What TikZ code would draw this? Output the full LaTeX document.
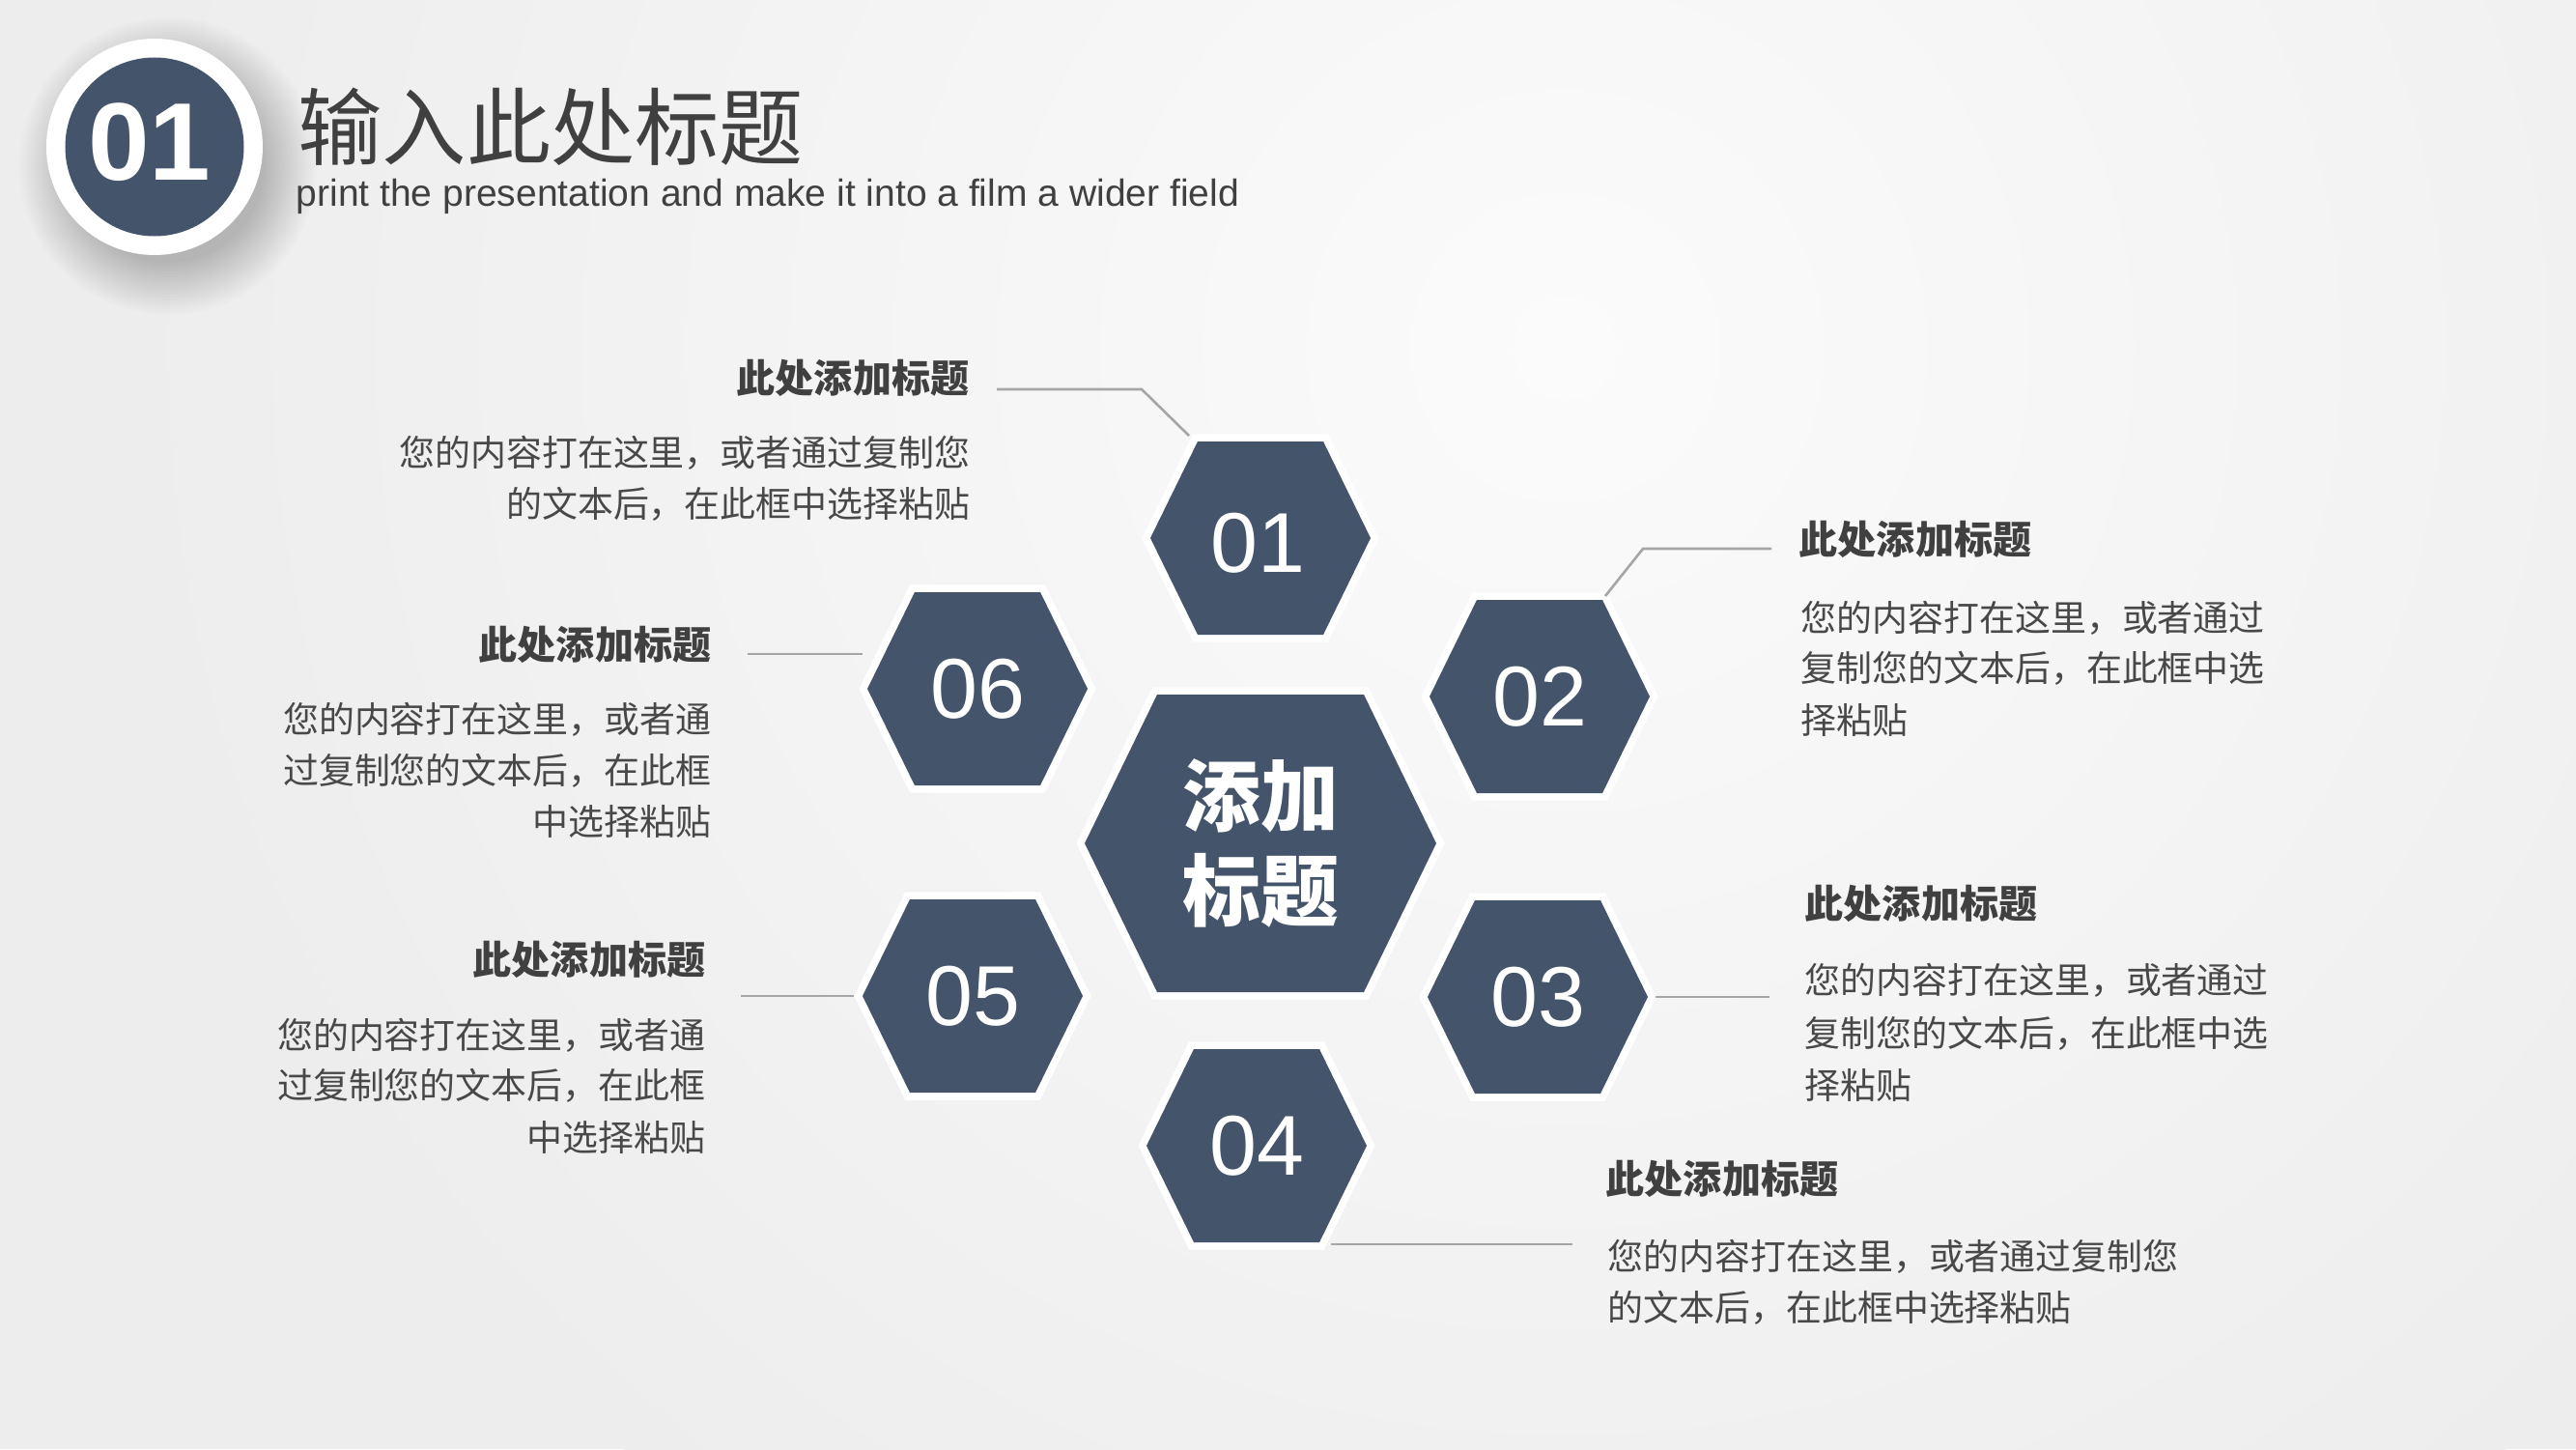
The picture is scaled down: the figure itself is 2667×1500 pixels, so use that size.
\documentclass[tikz,border=0pt]{standalone}
\usepackage{fontspec}
\setmainfont{Liberation Sans}
\newfontfamily\cjk{Noto Sans CJK SC}
\definecolor{hexc}{HTML}{44546A}
\definecolor{bgc}{HTML}{EDEDED}
\definecolor{hic}{HTML}{FBFBFB}
\definecolor{txt}{HTML}{404040}
\definecolor{bodyc}{HTML}{484848}
\definecolor{linec}{HTML}{A6A6A6}
\tikzset{
  hexrim/.style={draw=white, line width=4.4pt, line join=miter},
  hexfill/.style={fill=hexc},
  smallhex/.pic={
    \path[hexrim] (-114,0) -- (-65,-100) -- (65,-100) -- (114,0) -- (65,100) -- (-65,100) -- cycle;
    \path[hexfill] (-114,0) -- (-65,-100) -- (65,-100) -- (114,0) -- (65,100) -- (-65,100) -- cycle;},
  bighex/.pic={
    \path[hexrim] (-182,0) -- (-107,-154) -- (107,-154) -- (182,0) -- (107,154) -- (-107,154) -- cycle;
    \path[hexfill] (-182,0) -- (-107,-154) -- (107,-154) -- (182,0) -- (107,154) -- (-107,154) -- cycle;},
  num/.style={text=white, inner sep=0pt, font=\fontsize{25}{25}\selectfont},
  head/.style={text=txt, inner sep=0pt, font=\cjk\bfseries\fontsize{11.4}{14}\selectfont},
  bodyt/.style={text=bodyc, inner sep=0pt, font=\cjk\fontsize{10.5}{15}\selectfont},
  conn/.style={draw=linec, line width=0.75pt},
}
\begin{document}
\begin{tikzpicture}[x=0.01cm, y=-0.01cm]
\useasboundingbox (0,0) rectangle (2667,1500);
\fill[bgc] (0,0) rectangle (2667,1500);
\begin{scope}
  \clip (0,0) rectangle (2667,1500);
  \shade[inner color=hic, outer color=bgc] (1620,360) circle (1500);
\end{scope}

% header badge
\foreach \r in {100,103,...,154}{
  \fill[black, opacity=0.013] (174,172) circle (\r);
}
\fill[white] (160,152) circle (112);
\fill[hexc] (160,152) circle (92.5);
\node[text=white, inner sep=0pt, font=\bfseries\fontsize{32.5}{33}\selectfont] (badge) at (155,147) {01};
\node[anchor=west, inner sep=0pt, text=txt, font=\cjk\fontsize{24.8}{28}\selectfont] (title) at (308,131) {输入此处标题};
\node[anchor=base west, inner sep=0pt, text=txt, font=\fontsize{11.1}{13}\selectfont] (sub) at (306,213) {print the presentation and make it into a film a wider field};

% hexagons
\pic at (1305,557) {smallhex};
\node[num] (h1) at (1302,562) {01};
\pic at (1594,721) {smallhex};
\node[num] (h2) at (1594,721) {02};
\pic at (1592,1032) {smallhex};
\node[num] (h3) at (1592,1032) {03};
\pic at (1301,1186) {smallhex};
\node[num] (h4) at (1301,1186) {04};
\pic at (1007,1031) {smallhex};
\node[num] (h5) at (1007,1031) {05};
\pic at (1012,713) {smallhex};
\node[num] (h6) at (1012,713) {06};
\pic at (1305,873) {bighex};
\node[text=white, inner sep=0pt, align=center, font=\cjk\bfseries\fontsize{23}{28}\selectfont] (hc) at (1305,873) {添加\\标题};

% connectors
\coordinate (c1a) at (1231,451); \coordinate (c1b) at (1182,403); \coordinate (c1c) at (1032,403);
\draw[conn] (c1a) -- (c1b) -- (c1c);
\coordinate (c2a) at (1662,617); \coordinate (c2b) at (1701,568); \coordinate (c2c) at (1834,568);
\draw[conn] (c2a) -- (c2b) -- (c2c);
\coordinate (c3a) at (1714,1032); \coordinate (c3b) at (1832,1032);
\draw[conn] (c3a) -- (c3b);
\coordinate (c4a) at (1378,1288); \coordinate (c4b) at (1628,1288);
\draw[conn] (c4a) -- (c4b);
\coordinate (c5a) at (884,1031); \coordinate (c5b) at (767,1031);
\draw[conn] (c5a) -- (c5b);
\coordinate (c6a) at (893,677); \coordinate (c6b) at (774,677);
\draw[conn] (c6a) -- (c6b);

% block 01
\node[head, anchor=east] (t1) at (1004,391) {此处添加标题};
\node[bodyt, anchor=east] (t1a) at (1005,469) {您的内容打在这里，或者通过复制您};
\node[bodyt, anchor=east] (t1b) at (1005,522) {的文本后，在此框中选择粘贴};
% block 06
\node[head, anchor=east] (t6) at (737,667) {此处添加标题};
\node[bodyt, anchor=east] (t6a) at (737,745) {您的内容打在这里，或者通};
\node[bodyt, anchor=east] (t6b) at (737,798) {过复制您的文本后，在此框};
\node[bodyt, anchor=east] (t6c) at (737,850) {中选择粘贴};
% block 05
\node[head, anchor=east] (t5) at (731,993) {此处添加标题};
\node[bodyt, anchor=east] (t5a) at (731,1072) {您的内容打在这里，或者通};
\node[bodyt, anchor=east] (t5b) at (731,1124) {过复制您的文本后，在此框};
\node[bodyt, anchor=east] (t5c) at (731,1177) {中选择粘贴};
% block 02
\node[head, anchor=west] (t2) at (1862,558) {此处添加标题};
\node[bodyt, anchor=west] (t2a) at (1864,640) {您的内容打在这里，或者通过};
\node[bodyt, anchor=west] (t2b) at (1864,692) {复制您的文本后，在此框中选};
\node[bodyt, anchor=west] (t2c) at (1864,745) {择粘贴};
% block 03
\node[head, anchor=west] (t3) at (1868,935) {此处添加标题};
\node[bodyt, anchor=west] (t3a) at (1868,1015) {您的内容打在这里，或者通过};
\node[bodyt, anchor=west] (t3b) at (1868,1070) {复制您的文本后，在此框中选};
\node[bodyt, anchor=west] (t3c) at (1868,1123) {择粘贴};
% block 04
\node[head, anchor=west] (t4) at (1662,1220) {此处添加标题};
\node[bodyt, anchor=west] (t4a) at (1664,1301) {您的内容打在这里，或者通过复制您};
\node[bodyt, anchor=west] (t4b) at (1664,1354) {的文本后，在此框中选择粘贴};
\end{tikzpicture}
\end{document}
